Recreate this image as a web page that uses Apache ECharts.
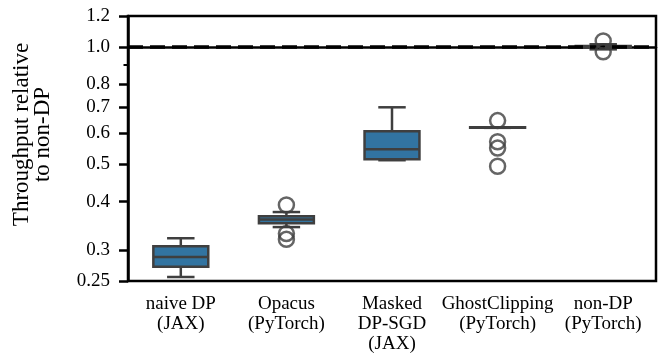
<!DOCTYPE html>
<html>
<head>
<meta charset="utf-8">
<script src="https://cdn.jsdelivr.net/npm/echarts@6/dist/echarts.min.js"></script>
<style>
  html, body { margin: 0; padding: 0; background: #fff; }
  #chart { width: 661px; height: 358px; }
</style>
</head>
<body>
<div id="chart"></div>
<script>
// Throughput of each DP-SGD implementation, relative to the non-DP baseline
const categories = ['naive DP\n(JAX)', 'Opacus\n(PyTorch)', 'Masked\nDP-SGD\n(JAX)', 'GhostClipping\n(PyTorch)', 'non-DP\n(PyTorch)'];
const whiskerLow  = [0.256, 0.344, 0.511, 0.619, 0.985];
const quartile1   = [0.272, 0.352, 0.514, 0.619, 0.995];
const medians     = [0.288, 0.360, 0.545, 0.620, 1.000];
const quartile3   = [0.307, 0.367, 0.607, 0.621, 1.005];
const whiskerHigh = [0.322, 0.376, 0.699, 0.621, 1.015];
// flier points: [category index, value]
const outliers = [
  [1, 0.392], [1, 0.331], [1, 0.320],
  [3, 0.646], [3, 0.570], [3, 0.549], [3, 0.493],
  [4, 1.035], [4, 0.971]
];
const baseline = 1.0;
const yMin = 0.25, yMax = 1.2;
const yTickValues = [0.25, 0.3, 0.4, 0.5, 0.6, 0.7, 0.8, 1.0, 1.2];
const yTickLabels = ['0.25', '0.3', '0.4', '0.5', '0.6', '0.7', '0.8', '1.0', '1.2'];
const yMinorTicks = [0.9];

const FONT = 'Liberation Serif';
const EDGE = '#3f3f3f';
const FILL = '#3274a1';

const boxData = categories.map((c, i) => [i, whiskerLow[i], quartile1[i], medians[i], quartile3[i], whiskerHigh[i]]);
const lg = v => Math.log10(v);
const logTicks = yTickValues.map(lg);

function tickLabel(v) {
  for (let j = 0; j < logTicks.length; j++) {
    if (Math.abs(logTicks[j] - v) < 1e-6) return yTickLabels[j];
  }
  return '';
}

function renderBox(params, api) {
  const i = api.value(0);
  const band = api.size([1, 0], [i, 1])[0];
  const bw = band * 0.52;
  const cw = bw / 2;
  const pt = v => api.coord([i, v]);
  const lo = pt(api.value(1)), b1 = pt(api.value(2)), md = pt(api.value(3)),
        b3 = pt(api.value(4)), hi = pt(api.value(5));
  const cx = md[0];
  const ls = { stroke: EDGE, lineWidth: 2.5 };
  return {
    type: 'group',
    children: [
      { type: 'line', shape: { x1: cx, y1: hi[1], x2: cx, y2: b3[1] }, style: ls },
      { type: 'line', shape: { x1: cx, y1: b1[1], x2: cx, y2: lo[1] }, style: ls },
      { type: 'line', shape: { x1: cx - cw / 2, y1: hi[1], x2: cx + cw / 2, y2: hi[1] }, style: ls },
      { type: 'line', shape: { x1: cx - cw / 2, y1: lo[1], x2: cx + cw / 2, y2: lo[1] }, style: ls },
      { type: 'rect', shape: { x: cx - bw / 2, y: b3[1], width: bw, height: b1[1] - b3[1] },
        style: { fill: FILL, stroke: EDGE, lineWidth: 2.5 } },
      { type: 'line', shape: { x1: cx - bw / 2, y1: md[1], x2: cx + bw / 2, y2: md[1] }, style: ls }
    ]
  };
}

const chart = echarts.init(document.getElementById('chart'), null, { renderer: 'canvas' });
chart.setOption({
  animation: false,
  backgroundColor: '#fff',
  grid: { left: 128, right: 5, top: 16, bottom: 77, show: true, borderColor: '#000', borderWidth: 2.5 },
  xAxis: {
    type: 'category',
    data: categories,
    boundaryGap: true,
    axisLine: { lineStyle: { color: '#000', width: 2.5 } },
    axisTick: { alignWithLabel: true, length: 9, lineStyle: { color: '#000', width: 2.5 } },
    axisLabel: { interval: 0, color: '#000', fontFamily: FONT, fontSize: 19, lineHeight: 20, margin: 13 },
    splitLine: { show: false }
  },
  yAxis: [
    {
      type: 'log', logBase: 10, min: yMin, max: yMax,
      axisLine: { show: true, lineStyle: { color: '#000', width: 2.5 } },
      axisTick: { show: false }, axisLabel: { show: false }, splitLine: { show: false }
    },
    {
      type: 'value', min: lg(yMin), max: lg(yMax), position: 'left',
      axisLine: { show: false }, splitLine: { show: false },
      axisTick: { show: true, length: 9, customValues: logTicks, lineStyle: { color: '#000', width: 2.5 } },
      axisLabel: { customValues: logTicks, formatter: tickLabel, color: '#000', fontFamily: FONT, fontSize: 19, margin: 18 },
      name: 'Throughput relative\nto non-DP',
      nameLocation: 'middle', nameRotate: 90, nameGap: 75,
      nameTextStyle: { color: '#000', fontFamily: FONT, fontSize: 23, lineHeight: 21, padding: [0, 0, 0, 28] }
    },
    {
      type: 'value', min: lg(yMin), max: lg(yMax), position: 'left',
      axisLine: { show: false }, splitLine: { show: false }, axisLabel: { show: false },
      axisTick: { show: true, length: 4.5, customValues: yMinorTicks.map(lg), lineStyle: { color: '#000', width: 2 } }
    }
  ],
  series: [
    {
      type: 'custom',
      yAxisIndex: 0,
      renderItem: renderBox,
      encode: { x: 0, y: [1, 2, 3, 4, 5] },
      data: boxData,
      z: 2
    },
    {
      type: 'scatter',
      yAxisIndex: 0,
      data: outliers,
      symbol: 'circle',
      symbolSize: 15,
      itemStyle: { color: 'rgba(0,0,0,0)', borderColor: EDGE, borderWidth: 2.5 },
      z: 4,
      markLine: {
        silent: true,
        symbol: 'none',
        label: { show: false },
        lineStyle: { color: '#000', width: 3.5, type: [15, 7] },
        data: [{ yAxis: baseline }],
        z: 3
      }
    }
  ]
});
</script>
</body>
</html>
